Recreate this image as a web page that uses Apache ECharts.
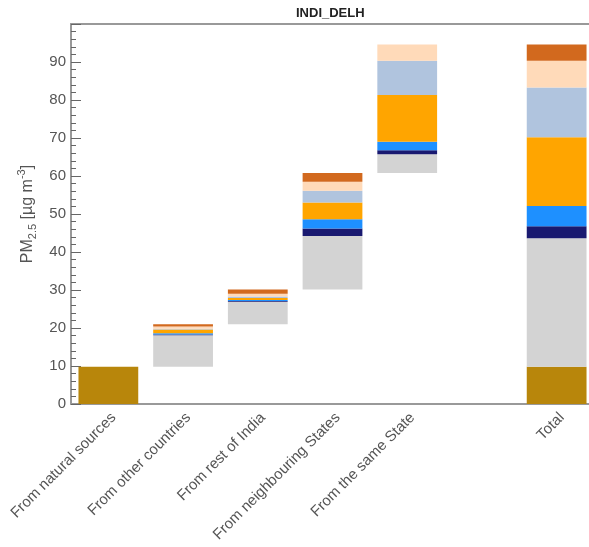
<!DOCTYPE html>
<html>
<head>
<meta charset="utf-8">
<script src="https://cdn.jsdelivr.net/npm/echarts@6/dist/echarts.min.js"></script>
<style>
  html, body { margin: 0; padding: 0; background: #fff; overflow: hidden; }
  #chart { width: 594px; height: 547px; }
</style>
</head>
<body>
<div id="chart"></div>
<script>
// Source-apportionment waterfall of PM2.5 for the Delhi receptor
const categories = [
  'From natural sources',
  'From other countries',
  'From rest of India',
  'From neighbouring States',
  'From the same State',
  '',
  'Total'
];

// invisible offset that lifts each floating bar
const baseOffset = [0, 9.8, 21.0, 30.1, 60.8, '-', 0];

// contributions by component (µg m-3)
const natural    = [9.8, '-', '-', '-', '-', '-', 9.8];
const greyPart   = ['-', 8.3, 5.9, 14.1, 4.9, '-', 33.8];
const navyPart   = ['-', 0.2, 0.2, 2.0, 1.1, '-', 3.2];
const bluePart   = ['-', 0.3, 0.3, 2.4, 2.2, '-', 5.3];
const orangePart = ['-', 1.0, 0.5, 4.4, 12.3, '-', 18.1];
const steelPart  = ['-', 0.2, 0.4, 3.1, 9.0, '-', 13.1];
const peachPart  = ['-', 0.6, 0.7, 2.4, 4.3, '-', 7.0];
const brownPart  = ['-', 0.6, 1.1, 2.3, 0, '-', 4.3];

const yTicks = [0, 10, 20, 30, 40, 50, 60, 70, 80, 90];

const layers = [
  { name: 'natural', data: natural, color: '#b8860b' },
  { name: 'grey', data: greyPart, color: '#d3d3d3' },
  { name: 'navy', data: navyPart, color: '#191970' },
  { name: 'blue', data: bluePart, color: '#1e90ff' },
  { name: 'orange', data: orangePart, color: '#ffa500' },
  { name: 'steel', data: steelPart, color: '#b0c4de' },
  { name: 'peach', data: peachPart, color: '#ffdab9' },
  { name: 'brown', data: brownPart, color: '#d2691e' }
];

const fontFam = '"Liberation Sans", Arial, sans-serif';
const chart = echarts.init(document.getElementById('chart'));

const series = [{
  name: 'base',
  type: 'bar',
  stack: 'all',
  data: baseOffset,
  itemStyle: { color: 'transparent' },
  silent: true,
  barCategoryGap: '20%'
}].concat(layers.map(l => ({
  name: l.name,
  type: 'bar',
  stack: 'all',
  data: l.data,
  itemStyle: { color: l.color },
  barCategoryGap: '20%'
})));

chart.setOption({
  animation: false,
  title: {
    text: 'INDI_DELH',
    left: 291,
    top: 2,
    textStyle: { fontFamily: fontFam, fontSize: 13, fontWeight: 'bold', color: '#222' }
  },
  grid: { left: 71, top: 24, right: 0, bottom: 143 },
  xAxis: [{
    type: 'category',
    data: categories,
    position: 'bottom',
    axisLine: { lineStyle: { color: '#999', width: 2 } },
    axisTick: { show: false },
    axisLabel: {
      rotate: 45,
      interval: 0,
      margin: 6,
      verticalAlign: 'top',
      fontFamily: fontFam,
      fontSize: 15,
      color: '#555'
    }
  }, {
    type: 'category',
    data: categories,
    position: 'top',
    axisLine: { lineStyle: { color: '#999', width: 2 } },
    axisTick: { show: false },
    axisLabel: { show: false }
  }],
  yAxis: {
    type: 'value',
    min: 0,
    max: 100,
    interval: 10,
    name: 'PM{sub|2.5} [µg m{sup|-3}]',
    nameLocation: 'middle',
    nameGap: 23,
    nameRotate: 90,
    nameTextStyle: {
      fontFamily: fontFam,
      fontSize: 16,
      color: '#555',
      lineHeight: 22,
      rich: {
        sub: { fontFamily: fontFam, fontSize: 11, color: '#555', verticalAlign: 'bottom', lineHeight: 22 },
        sup: { fontFamily: fontFam, fontSize: 11, color: '#555', verticalAlign: 'top', lineHeight: 22 }
      }
    },
    axisLine: { show: true, lineStyle: { color: '#999', width: 2 } },
    axisTick: { show: true, inside: true, length: 10, lineStyle: { color: '#666' } },
    minorTick: { show: true, splitNumber: 5, length: 5, lineStyle: { color: '#666' } },
    splitLine: { show: false },
    axisLabel: {
      fontFamily: fontFam,
      fontSize: 15,
      color: '#555',
      margin: 5,
      formatter: v => (yTicks.indexOf(v) >= 0 ? String(v) : '')
    }
  },
  series: series
});
</script>
</body>
</html>
